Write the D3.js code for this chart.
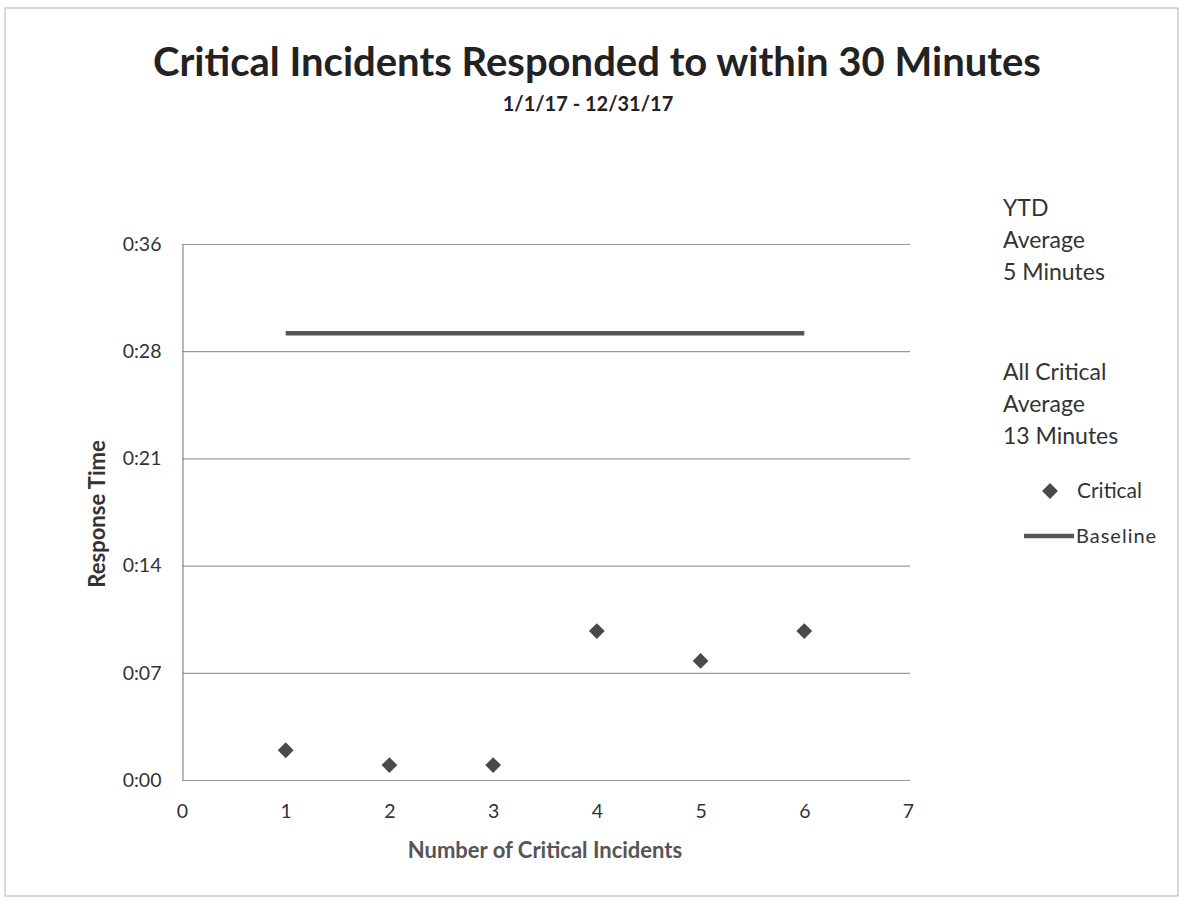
<!DOCTYPE html>
<html>
<head>
<meta charset="utf-8">
<script src="https://cdn.jsdelivr.net/npm/d3@7"></script>
<style>
body { margin: 0; background: #fff; }
svg text { font-family: Lato, "Open Sans", sans-serif; }
</style>
</head>
<body>
<svg id="chart" width="1186" height="899"></svg>
<script>
// incident number and response time in minutes
var incidents = [1, 2, 3, 4, 5, 6];
var responseMinutes = [2, 1, 1, 10, 8, 10];
var baselineX = [1, 6];
var baselineMinutes = [30, 30];
var yTicks = [0, 7.2, 14.4, 21.6, 28.8, 36];
var xTicks = [0, 1, 2, 3, 4, 5, 6, 7];
var sideNotes = [["YTD", "Average", "5 Minutes"], ["All Critical", "Average", "13 Minutes"]];

var svg = d3.select("#chart");

svg.append("rect").attr("x", 5).attr("y", 8).attr("width", 1173).attr("height", 888)
	.attr("fill", "none").attr("stroke", "#b0b0b0").attr("stroke-width", 1);

var x = d3.scaleLinear().domain([0, 7]).range([182, 908]);
var y = d3.scaleLinear().domain([0, 36]).range([780, 244]);

function fmtTime(m) {
	var mm = Math.floor(m + 1e-9);
	return "0:" + (mm < 10 ? "0" + mm : mm);
}

// gridlines
svg.append("g").selectAll("line").data(yTicks).join("line")
	.attr("x1", x(0)).attr("x2", 910)
	.attr("y1", function(d){ return y(d) + 0.5; }).attr("y2", function(d){ return y(d) + 0.5; })
	.attr("stroke", "#9a9a9a").attr("stroke-width", 1.2);

// y axis
var yAxis = svg.append("g").attr("transform", "translate(" + (x(0) + 0.5) + ",0)")
	.call(d3.axisLeft(y).tickValues(yTicks).tickFormat(fmtTime).tickSize(0).tickPadding(21));
yAxis.select(".domain").attr("stroke", "#8a8a8a").attr("stroke-width", 1.2);
yAxis.selectAll("text").attr("font-size", 19.5).attr("fill", "#333");

// x axis (labels only)
var xAxis = svg.append("g").attr("transform", "translate(0," + (y(0) + 0.5) + ")")
	.call(d3.axisBottom(x).tickValues(xTicks).tickFormat(d3.format("d")).tickSize(0).tickPadding(24));
xAxis.select(".domain").remove();
xAxis.selectAll("text").attr("font-size", 19.5).attr("fill", "#333");

// baseline
var line = d3.line().x(function(d){ return x(d[0]); }).y(function(d){ return y(d[1]); });
svg.append("path").datum(d3.zip(baselineX, baselineMinutes))
	.attr("d", line).attr("fill", "none").attr("stroke", "#555").attr("stroke-width", 4.5);

// critical points
var diamond = d3.symbol().type(d3.symbolSquare).size(125);
svg.append("g").selectAll("path").data(d3.zip(incidents, responseMinutes)).join("path")
	.attr("d", diamond)
	.attr("transform", function(d){ return "translate(" + x(d[0]) + "," + y(d[1]) + ") rotate(45)"; })
	.attr("fill", "#4a4a4a");

// titles
svg.append("text").attr("x", 597).attr("y", 76).attr("text-anchor", "middle")
	.attr("font-size", 40).attr("font-weight", "bold").attr("fill", "#222")
	.text("Critical Incidents Responded to within 30 Minutes");
svg.append("text").attr("x", 588).attr("y", 111).attr("text-anchor", "middle")
	.attr("font-size", 20).attr("font-weight", "bold").attr("fill", "#222")
	.text("1/1/17 - 12/31/17");

svg.append("text").attr("x", 545).attr("y", 858).attr("text-anchor", "middle")
	.attr("font-size", 22).attr("font-weight", "bold").attr("fill", "#555")
	.text("Number of Critical Incidents");
svg.append("text").attr("transform", "translate(105,514) rotate(-90)").attr("text-anchor", "middle")
	.attr("font-size", 22).attr("font-weight", "bold").attr("fill", "#333")
	.text("Response Time");

// side notes
sideNotes.forEach(function(lines, i){
	svg.append("g").selectAll("text").data(lines).join("text")
		.attr("x", 1003).attr("y", function(d, j){ return 216 + i * 164 + j * 32; })
		.attr("font-size", 23).attr("fill", "#333")
		.text(function(d){ return d; });
});

// legend
svg.append("path").attr("d", diamond).attr("transform", "translate(1050,491) rotate(45)").attr("fill", "#4a4a4a");
svg.append("text").attr("x", 1077).attr("y", 498).attr("font-size", 21).attr("fill", "#333").text("Critical");
svg.append("line").attr("x1", 1024).attr("x2", 1074).attr("y1", 536).attr("y2", 536)
	.attr("stroke", "#555").attr("stroke-width", 4.5);
svg.append("text").attr("x", 1076).attr("y", 543).attr("font-size", 20).attr("letter-spacing", 1)
	.attr("fill", "#333").text("Baseline");
</script>
</body>
</html>
